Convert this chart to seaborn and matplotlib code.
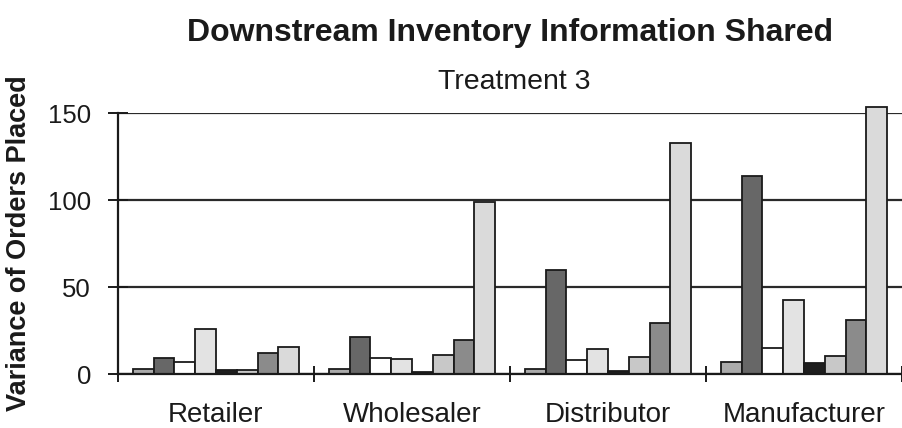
import numpy as np
import pandas as pd
import matplotlib
matplotlib.use("Agg")
import matplotlib.pyplot as plt
import seaborn as sns

stages = ["Retailer", "Wholesaler", "Distributor", "Manufacturer"]
teams = ["Team 1", "Team 2", "Team 3", "Team 4", "Team 5", "Team 6", "Team 7", "Team 8"]
retailer = [2.7, 9.0, 6.9, 25.7, 2.3, 2.5, 11.9, 15.7]
wholesaler = [2.7, 21.1, 9.2, 8.4, 1.3, 10.7, 19.6, 99.0]
distributor = [3.1, 59.8, 8.0, 14.6, 1.5, 9.6, 29.5, 133.0]
manufacturer = [6.9, 114.0, 15.0, 42.6, 6.5, 10.4, 31.0, 153.8]
y_ticks = [0, 50, 100, 150]

colors = ["#ababab", "#676767", "#ffffff", "#e3e3e3", "#1e1e1e", "#c8c8c8", "#8b8b8b", "#dadada"]

rows = []
for stage, vals in zip(stages, [retailer, wholesaler, distributor, manufacturer]):
    for t, v in zip(teams, vals):
        rows.append({"Stage": stage, "Team": t, "Variance": v})
df = pd.DataFrame(rows)

sns.set_style("white")
plt.rcParams["font.family"] = ["Liberation Sans", "DejaVu Sans"]

fig = plt.figure(figsize=(9.02, 4.28), dpi=100)
ax = fig.add_axes([118 / 902, (428 - 374) / 428, 1 - 118 / 902, (374 - 113.3) / 428])

sns.barplot(data=df, x="Stage", y="Variance", hue="Team", order=stages, hue_order=teams,
            palette=colors, width=0.85, gap=0, edgecolor="#1a1a1a", linewidth=1.3,
            saturation=1, legend=False, ax=ax, errorbar=None)
for p in ax.patches:
    p.set_clip_on(False)

ax.set_ylim(0, 150)
ax.set_xlim(-0.5, 3.48)
ax.set_yticks(y_ticks)
ax.set_yticklabels([str(v) for v in y_ticks], fontsize=18.5, color="#1a1a1a")
ax.set_axisbelow(True)
ax.yaxis.grid(True, color="#2a2a2a", linewidth=1.6)
ax.xaxis.grid(False)

for s in ["top", "right"]:
    ax.spines[s].set_visible(False)
ax.spines["left"].set_color("#1a1a1a")
ax.spines["left"].set_linewidth(1.6)
ax.spines["bottom"].set_color("#1a1a1a")
ax.spines["bottom"].set_linewidth(1.6)

ax.tick_params(axis="y", left=True, direction="inout", length=15, width=1.4,
               color="#1a1a1a", pad=12)
ax.set_xticks([-0.5, 0.5, 1.5, 2.5, 3.5], minor=True)
ax.tick_params(axis="x", which="both", bottom=True)
ax.tick_params(axis="x", which="major", length=0, labelsize=20, pad=20.5, labelcolor="#1a1a1a")
ax.tick_params(axis="x", which="minor", direction="inout", length=12, width=1.4, color="#1a1a1a")

ax.set_xlabel("")
ax.set_ylabel("")
fig.text(19 / 902, 1 - 243 / 428, "Variance of Orders Placed", rotation=90, ha="center",
         va="center", fontsize=19.5, fontweight="bold", color="#1a1a1a")
fig.text(510 / 902, 1 - 33 / 428, "Downstream Inventory Information Shared", ha="center",
         va="center", fontsize=23, fontweight="bold", color="#1a1a1a")
fig.text(514 / 902, 1 - 82 / 428, "Treatment 3", ha="center", va="center", fontsize=20.5,
         color="#1a1a1a")

fig.savefig("out.png", dpi=100)
